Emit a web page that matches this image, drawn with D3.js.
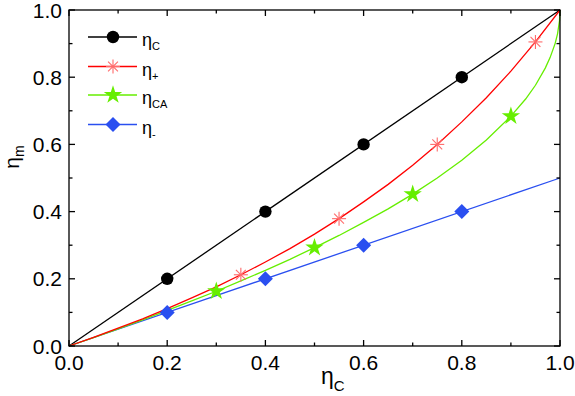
<!DOCTYPE html>
<html>
<head>
<meta charset="utf-8">
<script src="https://cdn.jsdelivr.net/npm/d3@7"></script>
<style>
  html, body { margin: 0; padding: 0; background: #fff; }
  svg text { font-family: "Liberation Sans", Arial, sans-serif; }
</style>
</head>
<body>
<svg id="chart" width="575" height="396"></svg>
<script>
'use strict';

/* ── Data ────────────────────────────────────────────────── */
const etaCx   = [0, 1];
const etaCy   = [0, 1];
const etaCMarkX = [0.2, 0.4, 0.6, 0.8];

const etaPlusX = [0, 0.05, 0.1, 0.15, 0.2, 0.25, 0.3, 0.35, 0.4, 0.45, 0.5, 0.55, 0.6, 0.65, 0.7, 0.75, 0.8, 0.85, 0.9, 0.95, 1.0];
const etaPlusY = [0, 0.026, 0.053, 0.081, 0.111, 0.143, 0.176, 0.212, 0.25, 0.29, 0.333, 0.379, 0.429, 0.481, 0.538, 0.6, 0.667, 0.739, 0.818, 0.905, 1.0];
const etaPlusMarkX = [0.35, 0.55, 0.75, 0.95];
const etaPlusMarkY = [0.212, 0.379, 0.6, 0.905];

const etaCAX = [0, 0.05, 0.1, 0.15, 0.2, 0.25, 0.3, 0.35, 0.4, 0.45, 0.5, 0.55, 0.6, 0.65, 0.7, 0.75, 0.8, 0.85, 0.9, 0.93, 0.95, 0.97, 0.98, 0.99, 0.995, 0.999, 1.0];
const etaCAY = [0, 0.025, 0.051, 0.078, 0.106, 0.134, 0.163, 0.194, 0.225, 0.258, 0.293, 0.329, 0.368, 0.408, 0.452, 0.5, 0.553, 0.613, 0.684, 0.735, 0.776, 0.827, 0.859, 0.9, 0.929, 0.968, 1.0];
const etaCAMarkX = [0.3, 0.5, 0.7, 0.9];
const etaCAMarkY = [0.163, 0.293, 0.452, 0.684];

const etaMinusX = [0, 1];
const etaMinusY = [0, 0.5];
const etaMinusMarkX = [0.2, 0.4, 0.6, 0.8];
const etaMinusMarkY = [0.1, 0.2, 0.3, 0.4];

const tickVals   = [0, 0.2, 0.4, 0.6, 0.8, 1.0];
const minorVals  = [0.1, 0.3, 0.5, 0.7, 0.9];

/* ── Layout ──────────────────────────────────────────────── */
const svg = d3.select('#chart');
const L = 69, R = 560, T = 10, B = 346;

const x = d3.scaleLinear().domain([0, 1]).range([L, R]);
const y = d3.scaleLinear().domain([0, 1]).range([B, T]);

const COL_C = '#000000', COL_P = '#ff0000', COL_CA = '#66ee00', COL_M = '#2a4ff0';

const line = d3.line().x(d => x(d[0])).y(d => y(d[1]));
const zip = (a, b) => a.map((v, i) => [v, b[i]]);

/* ── Curves ── */
const plot = svg.append('g');
plot.append('path').datum(zip(etaCx, etaCy)).attr('d', line)
  .attr('fill', 'none').attr('stroke', COL_C).attr('stroke-width', 1.3);
plot.append('path').datum(zip(etaMinusX, etaMinusY)).attr('d', line)
  .attr('fill', 'none').attr('stroke', COL_M).attr('stroke-width', 1.3);
plot.append('path').datum(zip(etaCAX, etaCAY)).attr('d', line)
  .attr('fill', 'none').attr('stroke', COL_CA).attr('stroke-width', 1.3);
plot.append('path').datum(zip(etaPlusX, etaPlusY)).attr('d', line)
  .attr('fill', 'none').attr('stroke', COL_P).attr('stroke-width', 1.3);

/* ── Marker helpers ── */
function circleMark(g, cx, cy) {
  g.append('circle').attr('cx', cx).attr('cy', cy).attr('r', 6.2).attr('fill', COL_C);
}
function asteriskMark(g, cx, cy) {
  const s = 7;
  const ag = g.append('g').attr('stroke', '#ff6a6a').attr('stroke-width', 1.1);
  [0, 45, 90, 135].forEach(a => {
    const r = a * Math.PI / 180;
    ag.append('line')
      .attr('x1', cx - s * Math.cos(r)).attr('y1', cy - s * Math.sin(r))
      .attr('x2', cx + s * Math.cos(r)).attr('y2', cy + s * Math.sin(r));
  });
}
function starMark(g, cx, cy) {
  g.append('path')
    .attr('d', d3.symbol().type(d3.symbolStar).size(105)())
    .attr('transform', `translate(${cx},${cy})`)
    .attr('fill', COL_CA);
}
function diamondMark(g, cx, cy) {
  const s = 7.5;
  g.append('path')
    .attr('d', `M${cx},${cy - s}L${cx + s},${cy}L${cx},${cy + s}L${cx - s},${cy}Z`)
    .attr('fill', COL_M);
}

etaCMarkX.forEach(v => circleMark(plot, x(v), y(v)));
etaPlusMarkX.forEach((v, i) => asteriskMark(plot, x(v), y(etaPlusMarkY[i])));
etaCAMarkX.forEach((v, i) => starMark(plot, x(v), y(etaCAMarkY[i])));
etaMinusMarkX.forEach((v, i) => diamondMark(plot, x(v), y(etaMinusMarkY[i])));

/* ── Frame and ticks (inward, all four sides) ── */
const axes = svg.append('g').attr('stroke', '#000').attr('stroke-width', 1.3);
axes.append('rect').attr('x', L).attr('y', T).attr('width', R - L).attr('height', B - T)
  .attr('fill', 'none');

function ticks(vals, len) {
  vals.forEach(v => {
    axes.append('line').attr('x1', x(v)).attr('x2', x(v)).attr('y1', B).attr('y2', B - len);
    axes.append('line').attr('x1', x(v)).attr('x2', x(v)).attr('y1', T).attr('y2', T + len);
    axes.append('line').attr('y1', y(v)).attr('y2', y(v)).attr('x1', L).attr('x2', L + len);
    axes.append('line').attr('y1', y(v)).attr('y2', y(v)).attr('x1', R).attr('x2', R - len);
  });
}
ticks(tickVals, 6);
ticks(minorVals, 3.5);

/* ── Tick labels ── */
svg.append('g').selectAll('text').data(tickVals).join('text')
  .attr('x', d => x(d)).attr('y', B + 24)
  .attr('text-anchor', 'middle').attr('font-size', 21).attr('fill', '#000')
  .text(d => d.toFixed(1));

svg.append('g').selectAll('text').data(tickVals).join('text')
  .attr('x', L - 7).attr('y', d => y(d) + 7.5)
  .attr('text-anchor', 'end').attr('font-size', 21).attr('fill', '#000')
  .text(d => d.toFixed(1));

/* ── Axis titles ── */
const xt = svg.append('text').attr('x', 321).attr('y', 384).attr('font-size', 23);
xt.append('tspan').text('η');
xt.append('tspan').attr('font-size', 15).attr('dy', 7).text('C');

const yt = svg.append('text').attr('transform', 'translate(19,157) rotate(-90)')
  .attr('text-anchor', 'middle').attr('font-size', 21);
yt.append('tspan').text('η');
yt.append('tspan').attr('font-size', 14).attr('dy', 5).text('m');

/* ── Legend ── */
const legend = [
  { sub: 'C',  col: COL_C,  mark: circleMark },
  { sub: '+',  col: COL_P,  mark: asteriskMark },
  { sub: 'CA', col: COL_CA, mark: starMark },
  { sub: '-',  col: COL_M,  mark: diamondMark }
];
const legY = [37, 66.5, 95, 124.5];
const lg = svg.append('g');
legend.forEach((d, i) => {
  const ly = legY[i];
  lg.append('line').attr('x1', 88).attr('x2', 137).attr('y1', ly).attr('y2', ly)
    .attr('stroke', d.col).attr('stroke-width', 1.3);
  d.mark(lg, 113, ly);
  const t = lg.append('text').attr('x', 142).attr('y', ly + 9).attr('font-size', 18);
  t.append('tspan').text('η');
  t.append('tspan').attr('font-size', 11).attr('dy', 4).text(d.sub);
});
</script>
</body>
</html>
